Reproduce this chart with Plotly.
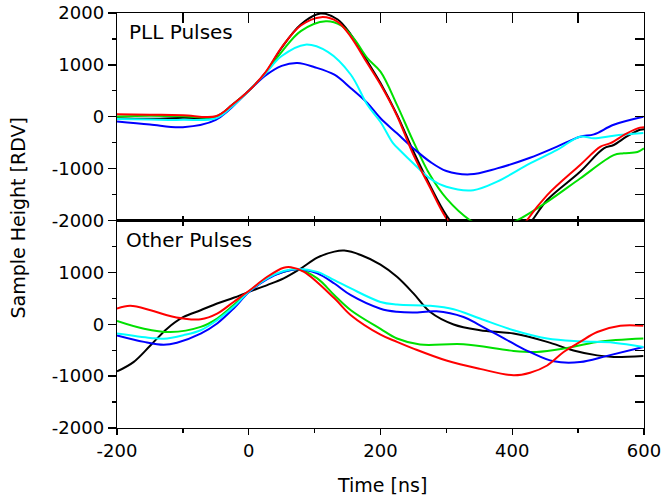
import plotly.graph_objects as go

# ---------------- data: PLL pulses (top panel) ----------------
pll_black_x = [-200,-150,-100,-50,-25,0,25,50,79,109,135,155,180,200,225,250,275,300,330,370,410,430,453,503,539,554,574,594,600]
pll_black_y = [-30,-40,-20,0,230,500,840,1330,1780,1990,1875,1585,1070,650,40,-670,-1320,-1900,-2350,-2500,-2300,-2000,-1605,-1060,-610,-545,-380,-250,-240]

pll_red_x = [-200,-150,-100,-50,-25,0,25,50,79,110,135,155,180,200,225,250,275,300,330,370,410,422,453,503,534,549,574,594,600]
pll_red_y = [50,40,30,10,230,500,850,1340,1760,1920,1830,1540,1030,620,20,-735,-1360,-1960,-2400,-2500,-2250,-2000,-1510,-930,-575,-510,-320,-210,-200]

pll_green_x = [-200,-150,-100,-50,-25,0,25,50,79,117,140,160,180,200,225,250,275,300,336,370,407,453,503,554,569,590,600]
pll_green_y = [5,20,10,0,220,500,830,1250,1650,1840,1760,1500,1130,870,230,-480,-1120,-1575,-1995,-2200,-2000,-1640,-1190,-740,-705,-680,-610]

pll_cyan_x = [-200,-150,-100,-50,-25,0,25,50,86,120,155,180,200,219,229,250,275,300,341,377,427,468,503,524,554,599]
pll_cyan_y = [-45,-55,-60,-30,200,500,830,1170,1390,1250,810,230,-100,-510,-640,-900,-1190,-1350,-1415,-1250,-900,-640,-385,-415,-365,-315]

pll_blue_x = [-200,-150,-100,-50,0,25,50,74,100,130,155,180,200,225,250,275,300,336,377,427,468,503,524,554,599]
pll_blue_y = [-90,-150,-200,-60,500,790,980,1035,955,810,550,265,-30,-320,-610,-865,-1045,-1110,-995,-790,-575,-385,-340,-155,0]

# ---------------- data: other pulses (bottom panel) ----------------
oth_black_x = [-200,-175,-149,-124,-99,-73,-48,-23,0,28,53,79,104,130,145,170,200,225,250,275,311,351,402,453,493,529,554,599]
oth_black_y = [-910,-730,-405,-85,140,270,400,510,625,755,885,1075,1285,1400,1420,1335,1150,915,595,240,-5,-115,-180,-340,-505,-600,-630,-610]

oth_red_x = [-200,-180,-149,-124,-99,-73,-48,-23,0,28,53,64,84,130,155,200,225,250,300,351,402,427,453,478,503,529,564,599]
oth_red_y = [305,355,270,175,110,95,205,430,640,915,1090,1100,1010,500,175,-200,-340,-470,-700,-860,-985,-935,-795,-535,-340,-150,-30,-30]

oth_green_x = [-200,-159,-119,-73,-48,-23,0,28,53,74,104,130,155,200,225,260,326,402,437,478,529,599]
oth_green_y = [65,-85,-150,-50,110,370,625,885,1010,1060,885,560,270,-90,-275,-390,-385,-515,-535,-470,-340,-275]

oth_cyan_x = [-200,-149,-129,-99,-73,-48,-23,0,28,53,74,104,130,155,200,225,275,311,351,402,453,503,554,599]
oth_cyan_y = [-180,-265,-280,-210,-115,80,335,625,885,1025,1065,1010,850,690,430,380,355,290,110,-115,-275,-330,-355,-440]

oth_blue_x = [-200,-159,-129,-109,-73,-48,-23,0,28,53,74,104,130,155,200,225,250,285,326,351,402,427,463,503,544,599]
oth_blue_y = [-215,-340,-395,-355,-180,15,305,615,870,1010,1060,980,785,560,300,240,225,250,140,-20,-375,-535,-715,-730,-610,-440]

x_ticks = [-200, 0, 200, 400, 600]
x_tick_text = ["-200", "0", "200", "400", "600"]
y_ticks_top = [-2000, -1000, 0, 1000, 2000]
y_tick_text_top = ["-2000", "-1000", "0", "1000", "2000"]
y_ticks_bottom = [-2000, -1000, 0, 1000]
y_tick_text_bottom = ["-2000", "-1000", "0", "1000"]
y_minor = [-1500, -500, 500, 1500]

COLORS = {"black": "#000000", "red": "#ff0000", "green": "#00e000",
          "cyan": "#00ffff", "blue": "#0000ff"}
FONT = "DejaVu Sans"

fig = go.Figure()

top_series = [("black", pll_black_x, pll_black_y), ("green", pll_green_x, pll_green_y),
              ("blue", pll_blue_x, pll_blue_y), ("cyan", pll_cyan_x, pll_cyan_y),
              ("red", pll_red_x, pll_red_y)]
bot_series = [("black", oth_black_x, oth_black_y), ("green", oth_green_x, oth_green_y),
              ("blue", oth_blue_x, oth_blue_y), ("cyan", oth_cyan_x, oth_cyan_y),
              ("red", oth_red_x, oth_red_y)]

for name, xs, ys in top_series:
    fig.add_trace(go.Scatter(x=xs, y=ys, mode="lines", xaxis="x2", yaxis="y2",
                             line=dict(color=COLORS[name], width=2, shape="spline", smoothing=1.0),
                             showlegend=False, hoverinfo="skip"))
for name, xs, ys in bot_series:
    fig.add_trace(go.Scatter(x=xs, y=ys, mode="lines", xaxis="x", yaxis="y",
                             line=dict(color=COLORS[name], width=2, shape="spline", smoothing=1.0),
                             showlegend=False, hoverinfo="skip"))

# dummy empty traces so decorative overlay axes exist
fig.add_trace(go.Scatter(x=[None], y=[None], xaxis="x3", yaxis="y4", showlegend=False, hoverinfo="skip"))
fig.add_trace(go.Scatter(x=[None], y=[None], xaxis="x4", yaxis="y3", showlegend=False, hoverinfo="skip"))

tickfont = dict(family=FONT, size=18, color="black")
line_common = dict(showline=True, linecolor="black", linewidth=1.3, showgrid=False, zeroline=False)

fig.update_layout(
    width=662, height=502,
    margin=dict(l=117, r=18, t=13, b=74, autoexpand=False),
    paper_bgcolor="white", plot_bgcolor="white",
    font=dict(family=FONT, size=18, color="black"),
    xaxis=dict(domain=[0, 1], anchor="y", range=[-200, 600], tickmode="array", tickvals=x_ticks,
               ticktext=x_tick_text, ticklabeloverflow="allow",
               ticks="outside", ticklen=6, tickwidth=1.3, tickcolor="black", tickfont=tickfont,
               minor=dict(dtick=100, tick0=0, ticks="outside", ticklen=4, tickwidth=1.3, tickcolor="black"),
               **line_common),
    xaxis2=dict(domain=[0, 1], anchor="y2", range=[-200, 600], dtick=100, tick0=0,
                ticks="inside", ticklen=5, tickwidth=1.3, tickcolor="black", showticklabels=False,
                **line_common),
    xaxis3=dict(overlaying="x2", side="top", anchor="y2", range=[-200, 600], dtick=100, tick0=0,
                ticks="inside", ticklen=10, tickwidth=1.3, tickcolor="black", showticklabels=False,
                **line_common),
    xaxis4=dict(overlaying="x", side="top", anchor="y", range=[-200, 600], dtick=100, tick0=0,
                ticks="inside", ticklen=5, tickwidth=1.3, tickcolor="black", showticklabels=False,
                **line_common),
    yaxis=dict(domain=[0, 0.5], anchor="x", range=[-2000, 2000], tickmode="array", tickvals=y_ticks_bottom,
               ticktext=y_tick_text_bottom, ticklabeloverflow="allow",
               ticks="outside", ticklen=8, tickwidth=1.3, tickcolor="black", tickfont=tickfont,
               minor=dict(tickmode="array", tickvals=y_minor, ticks="outside", ticklen=4, tickwidth=1.3, tickcolor="black"),
               **line_common),
    yaxis2=dict(domain=[0.5, 1], anchor="x2", range=[-2000, 2000], tickmode="array", tickvals=y_ticks_top,
                ticktext=y_tick_text_top, ticklabeloverflow="allow",
                ticks="outside", ticklen=8, tickwidth=1.3, tickcolor="black", tickfont=tickfont,
                minor=dict(tickmode="array", tickvals=y_minor, ticks="outside", ticklen=4, tickwidth=1.3, tickcolor="black"),
                **line_common),
    yaxis3=dict(overlaying="y", side="right", anchor="x", range=[-2000, 2000], dtick=500, tick0=0,
                ticks="inside", ticklen=9, tickwidth=1.3, tickcolor="black", showticklabels=False,
                **line_common),
    yaxis4=dict(overlaying="y2", side="right", anchor="x2", range=[-2000, 2000], dtick=500, tick0=0,
                ticks="inside", ticklen=9, tickwidth=1.3, tickcolor="black", showticklabels=False,
                **line_common),
    annotations=[
        dict(text="PLL Pulses", xref="paper", yref="paper", x=0.019, y=0.954, xanchor="left", yanchor="middle",
             showarrow=False, font=dict(family=FONT, size=20, color="black")),
        dict(text="Other Pulses", xref="paper", yref="paper", x=0.013, y=0.453, xanchor="left", yanchor="middle",
             showarrow=False, font=dict(family=FONT, size=20, color="black")),
        dict(text="Time [ns]", xref="paper", yref="paper", x=0.502, y=-0.138, xanchor="center", yanchor="middle",
             showarrow=False, font=dict(family=FONT, size=19, color="black")),
        dict(text="Sample Height [RDV]", xref="paper", yref="paper", x=-0.188, y=0.507, xanchor="center",
             yanchor="middle", textangle=-90, showarrow=False, font=dict(family=FONT, size=19, color="black")),
    ],
)

fig.write_html("out.html", config={"displayModeBar": False, "staticPlot": True},
               post_script="document.body.style.margin='0px';")
